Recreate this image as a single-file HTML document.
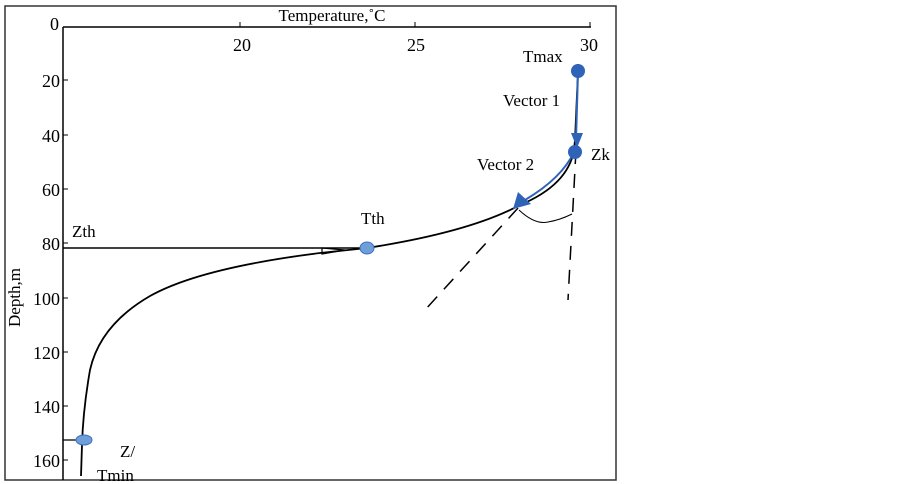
<!DOCTYPE html>
<html><head><style>
body{margin:0;background:#fff;width:903px;height:484px;overflow:hidden}
svg{display:block}
text{font-family:"Liberation Serif",serif;fill:#000}
</style></head><body>
<svg width="903" height="484" viewBox="0 0 903 484">
<rect x="5" y="6" width="611" height="474" fill="none" stroke="#333" stroke-width="1.5"/>
<line x1="63" y1="27" x2="591" y2="27" stroke="#000" stroke-width="1.5"/>
<line x1="63" y1="27" x2="63" y2="480" stroke="#000" stroke-width="1.5"/>
<g stroke="#000" stroke-width="1">
<line x1="240" y1="22" x2="240" y2="27"/><line x1="415" y1="22" x2="415" y2="27"/><line x1="590" y1="22" x2="590" y2="27"/>
<line x1="63" y1="80" x2="68" y2="80"/><line x1="63" y1="135" x2="68" y2="135"/><line x1="63" y1="189" x2="68" y2="189"/>
<line x1="63" y1="243" x2="68" y2="243"/><line x1="63" y1="298" x2="68" y2="298"/><line x1="63" y1="352" x2="68" y2="352"/>
<line x1="63" y1="406" x2="68" y2="406"/><line x1="63" y1="460" x2="68" y2="460"/>
</g>
<text x="332" y="21" font-size="17" text-anchor="middle">Temperature,˚C</text>
<g font-size="18" text-anchor="middle">
<text x="242" y="51">20</text><text x="416" y="51">25</text><text x="589" y="51">30</text>
</g>
<g font-size="18" text-anchor="end">
<text x="59" y="30">0</text><text x="60" y="87">20</text><text x="60" y="142">40</text><text x="60" y="196">60</text>
<text x="60" y="250">80</text><text x="60" y="305">100</text><text x="60" y="359">120</text><text x="60" y="413">140</text><text x="60" y="467">160</text>
</g>
<text transform="translate(20,327) rotate(-90)" font-size="17">Depth,m</text>
<line x1="63" y1="248" x2="367" y2="248" stroke="#000" stroke-width="1.5"/>
<line x1="63" y1="440" x2="82" y2="440" stroke="#000" stroke-width="1.2"/>
<line x1="518" y1="208" x2="425" y2="310" stroke="#000" stroke-width="1.5" stroke-dasharray="14,10"/>
<line x1="576" y1="150" x2="568" y2="300" stroke="#000" stroke-width="1.5" stroke-dasharray="14,10"/>
<path d="M519 210 Q535 225 548 222 Q560 220 572 214" fill="none" stroke="#000" stroke-width="1"/>
<path d="M578 64 L578 72 L575 140 L574 150 Q568 185 520 205 Q470 232 367 248 Q330 252 320 253 Q200 268 150 296 Q100 325 90 370 Q83 410 82 445 L81 476" fill="none" stroke="#000" stroke-width="1.8"/>
<path d="M322 248 L345 250 L322 254 Z" fill="none" stroke="#000" stroke-width="1.2"/>
<path d="M578 72 L576 140" stroke="#2f63b8" stroke-width="2" fill="none"/>
<polygon points="571,133 583,133 577,148" fill="#2f63b8"/>
<path d="M574 152 Q562 178 525 200" stroke="#2f63b8" stroke-width="2" fill="none"/>
<polygon points="513,209 518,192 531,204" fill="#2f63b8"/>
<circle cx="578" cy="71" r="7" fill="#2f63b8"/>
<circle cx="575" cy="152" r="7" fill="#2f63b8"/>
<ellipse cx="367" cy="248" rx="7" ry="6" fill="#6f9fd8" stroke="#3f6fc0"/>
<ellipse cx="84" cy="440" rx="8" ry="5" fill="#6f9fd8" stroke="#3f6fc0"/>
<g font-size="17">
<text x="523" y="62">Tmax</text>
<text x="503" y="106">Vector 1</text>
<text x="591" y="160">Zk</text>
<text x="477" y="170">Vector 2</text>
<text x="361" y="224">Tth</text>
<text x="72" y="237">Zth</text>
<text x="120" y="457">Z/</text>
<text x="97" y="481">Tmin</text>
</g>
</svg>
</body></html>
